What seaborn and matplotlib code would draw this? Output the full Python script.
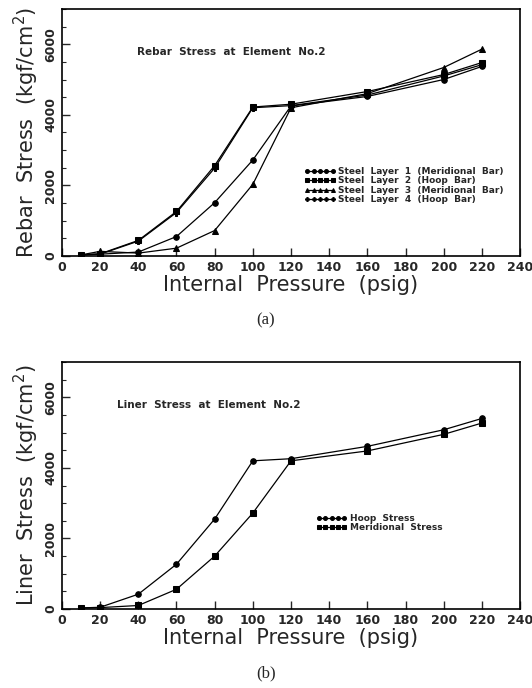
import matplotlib
matplotlib.use("Agg")
import matplotlib.pyplot as plt
from matplotlib.ticker import MultipleLocator
import seaborn as sns
import pandas as pd

# Internal pressure (psig)
pressure = [10, 20, 40, 60, 80, 100, 120, 160, 200, 220]

# (a) rebar stress, kgf/cm^2
layer1_meridional = [30, 50, 110, 550, 1510, 2720, 4250, 4520, 5000, 5370]
layer2_hoop = [30, 60, 440, 1260, 2560, 4220, 4300, 4660, 5140, 5480]
layer3_meridional = [30, 130, 80, 220, 720, 2030, 4200, 4600, 5340, 5860]
layer4_hoop = [30, 50, 420, 1230, 2490, 4200, 4260, 4560, 5100, 5420]
rebar_labels = [
    "Steel  Layer  1  (Meridional  Bar)",
    "Steel  Layer  2  (Hoop  Bar)",
    "Steel  Layer  3  (Meridional  Bar)",
    "Steel  Layer  4  (Hoop  Bar)",
]
rebar_markers = ["o", "s", "^", "P"]

# (b) liner stress, kgf/cm^2
hoop_stress = [30, 50, 420, 1270, 2550, 4200, 4260, 4610, 5080, 5400]
meridional_stress = [30, 40, 100, 560, 1500, 2720, 4200, 4480, 4950, 5270]
liner_labels = ["Hoop  Stress", "Meridional  Stress"]
liner_markers = ["o", "s"]

sns.set_style("ticks")
plt.rcParams["font.family"] = ["DejaVu Sans"]

fig = plt.figure(figsize=(5.32, 6.88), dpi=100)
ax_a = fig.add_axes([0.1165, 0.628, 0.861, 0.359])
ax_b = fig.add_axes([0.1165, 0.1148, 0.861, 0.359])


def draw_panel(ax, series, labels, markers, ylabel, note, note_x, leg_anchor):
    for vals, lab, mk in zip(series, labels, markers):
        df = pd.DataFrame({"p": pressure, "s": vals})
        sns.lineplot(data=df, x="p", y="s", ax=ax, color="black", lw=0.9,
                     marker=mk, markersize=4, markeredgecolor="black",
                     label=lab)
    ax.set_xlim(0, 240)
    ax.set_ylim(0, 7000)
    ax.xaxis.set_major_locator(MultipleLocator(20))
    ax.yaxis.set_major_locator(MultipleLocator(2000))
    ax.yaxis.set_minor_locator(MultipleLocator(500))
    ax.tick_params(direction="in", which="major", length=6, width=1,
                   labelsize=9)
    ax.tick_params(direction="in", which="minor", length=3, width=0.8)
    for t in ax.get_xticklabels():
        t.set_fontweight("bold")
    for t in ax.get_yticklabels():
        t.set_fontweight("bold")
        t.set_rotation(90)
        t.set_va("center")
    for sp in ax.spines.values():
        sp.set_linewidth(1.2)
        sp.set_color("black")
    ax.set_xlabel("Internal  Pressure  (psig)", fontsize=15, labelpad=1)
    ax.set_ylabel(ylabel, fontsize=15, labelpad=2)
    ax.text(note_x, 0.826, note, transform=ax.transAxes, fontsize=7.5,
            fontweight="bold", va="center")
    leg = ax.legend(loc="upper left", bbox_to_anchor=leg_anchor, frameon=False,
                    numpoints=5, markerscale=0.7, handlelength=3.4,
                    handletextpad=0.3, labelspacing=0.05, fontsize=6.5,
                    borderpad=0, borderaxespad=0)
    for t in leg.get_texts():
        t.set_fontweight("bold")


draw_panel(ax_a,
           [layer1_meridional, layer2_hoop, layer3_meridional, layer4_hoop],
           rebar_labels, rebar_markers,
           "Rebar  Stress  (kgf/cm$^2$)", "Rebar  Stress  at  Element  No.2",
           0.164, (0.53, 0.36))
draw_panel(ax_b, [hoop_stress, meridional_stress], liner_labels,
           liner_markers, "Liner  Stress  (kgf/cm$^2$)",
           "Liner  Stress  at  Element  No.2", 0.12, (0.555, 0.385))

fig.text(0.5, 1 - 320 / 688, "(a)", ha="center", va="center", fontsize=12,
         family="Liberation Serif")
fig.text(0.5, 1 - 673 / 688, "(b)", ha="center", va="center", fontsize=12,
         family="Liberation Serif")

fig.savefig("out.png", dpi=100)
